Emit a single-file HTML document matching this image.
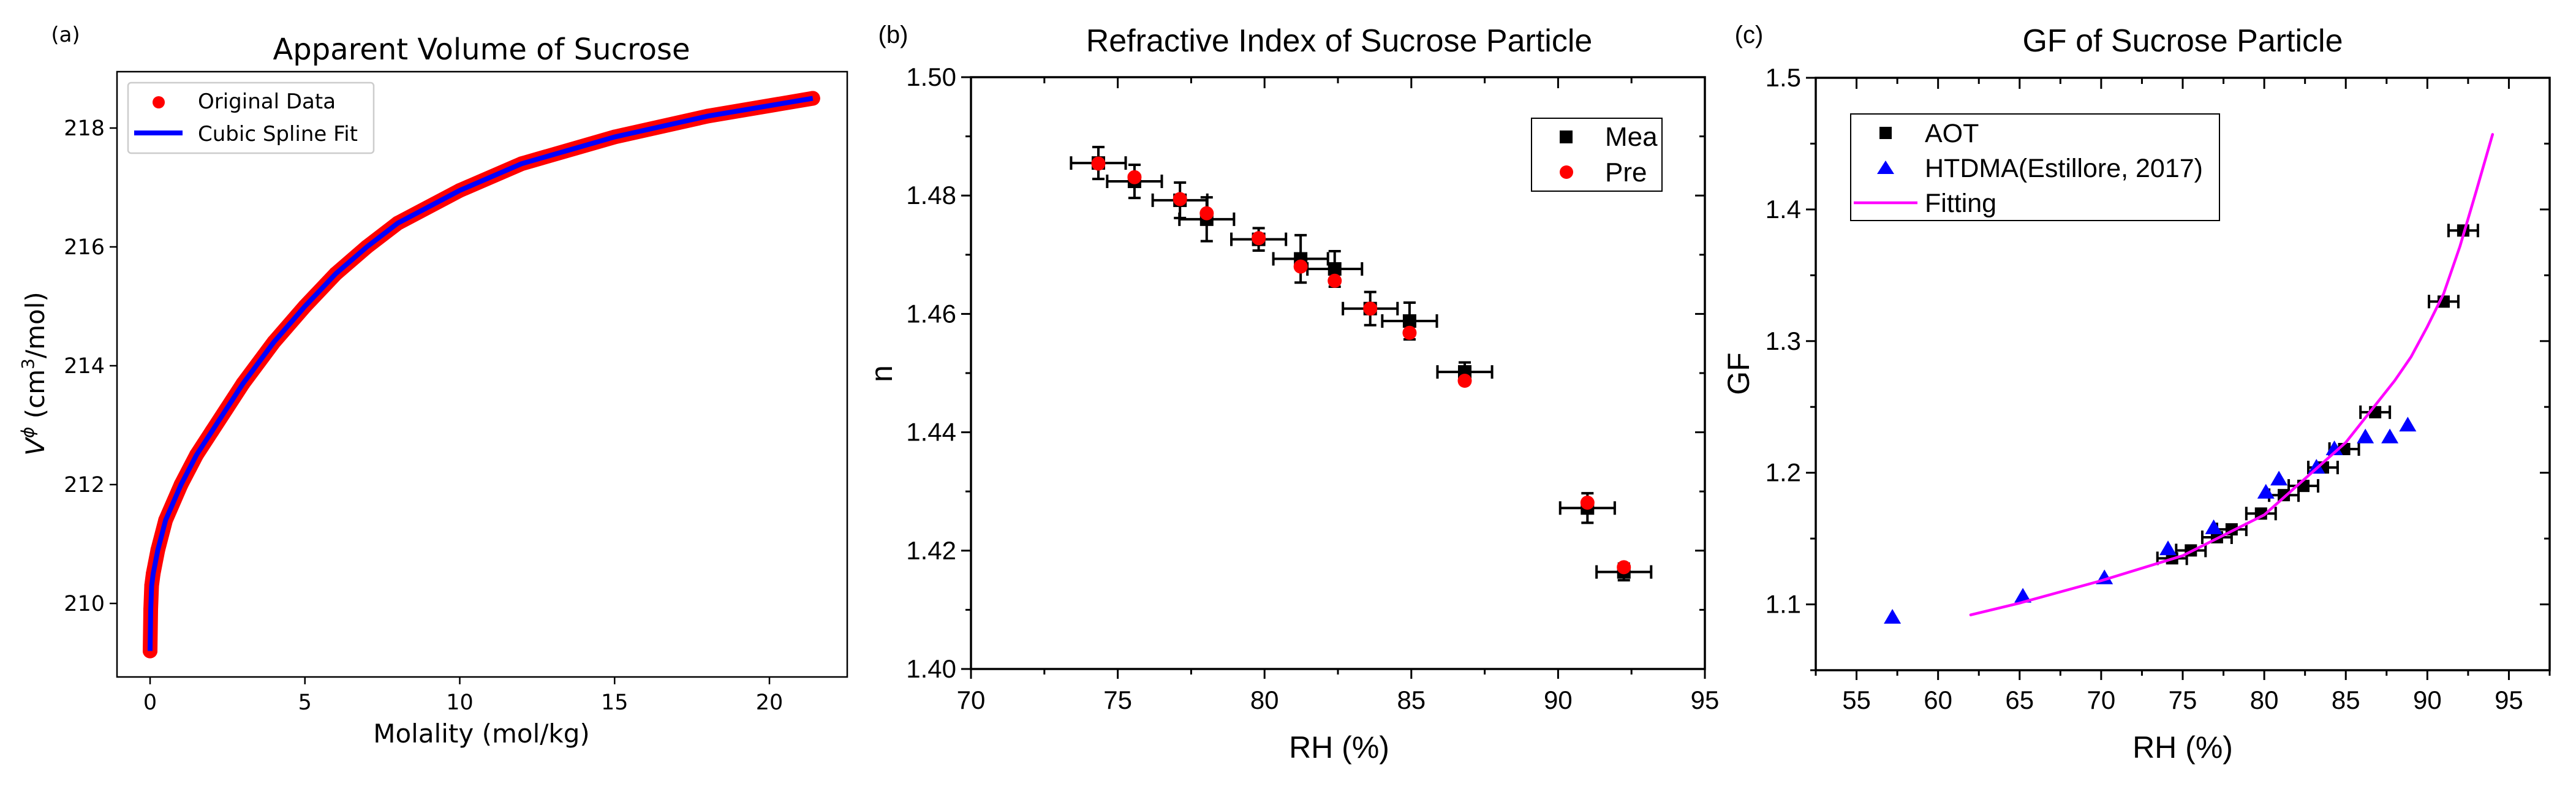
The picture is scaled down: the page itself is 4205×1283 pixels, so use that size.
<!DOCTYPE html>
<html><head><meta charset="utf-8">
<style>
html,body{margin:0;padding:0;background:#fff;overflow:hidden;}
svg{display:block;}
</style></head>
<body>
<svg id="fig" xmlns="http://www.w3.org/2000/svg" width="4205" height="1283" viewBox="0 0 4205 1283">
<rect width="4205" height="1283" fill="#fff"/>
<g id="pa"></g>
<g id="pb"></g>
<g id="pc"></g>
</svg>
<script>
// Panel A data
const aMolality = [0,0.02,0.05,0.1,0.25,0.5,1,1.5,2,3,4,5,6,7,8,10,12,15,18,21.4];
const aVolume   = [209.2,209.9,210.3,210.5,210.9,211.4,212.0,212.5,212.9,213.7,214.4,215.0,215.55,216.0,216.4,216.95,217.4,217.85,218.2,218.5];
const aXTicks = [0,5,10,15,20];
const aYTicks = [210,212,214,216,218];
// Panel B data
const bRH     = [74.34,75.57,77.12,78.03,79.8,81.23,82.39,83.6,84.94,86.82,91.0,92.24];
const bMea    = [1.4855,1.4824,1.4792,1.4760,1.4726,1.4693,1.4676,1.4609,1.4588,1.4502,1.4272,1.4164];
const bMeaErr = [0.0027,0.0028,0.0030,0.0037,0.0019,0.0040,0.0030,0.0028,0.0031,0.0016,0.0025,0.0014];
const bRHErr  = [0.93,0.93,0.93,0.93,0.93,0.93,0.93,0.93,0.93,0.93,0.93,0.93];
const bPre    = [1.4854,1.4831,1.4794,1.4770,1.4728,1.4680,1.4656,1.4609,1.4568,1.4487,1.4281,1.4172];
const bXTicks = [70,75,80,85,90,95];
const bYTicks = [1.40,1.42,1.44,1.46,1.48,1.50];
// Panel C data
const cAotRH = [74.35,75.5,77.1,78.0,79.8,81.2,82.4,83.6,84.9,86.8,91.0,92.2];
const cAotGF = [1.135,1.141,1.151,1.157,1.169,1.183,1.190,1.204,1.218,1.246,1.330,1.384];
const cAotErr = [0.9,0.9,0.9,0.9,0.9,0.9,0.9,0.9,0.9,0.9,0.9,0.9];
const cHtRH = [57.2,65.2,70.2,74.1,76.9,80.1,80.9,83.2,84.3,86.2,87.7,88.8];
const cHtGF = [1.090,1.106,1.120,1.142,1.158,1.185,1.195,1.204,1.218,1.227,1.227,1.236];
const cFitRH = [62,65,70,75,80,85,88,89,90,91,92,93,94];
const cFitGF = [1.092,1.101,1.118,1.137,1.168,1.223,1.270,1.288,1.311,1.336,1.372,1.414,1.457];
const cXTicks = [55,60,65,70,75,80,85,90,95];
const cYTicks = [1.1,1.2,1.3,1.4,1.5];

const NS='http://www.w3.org/2000/svg';
function mk(parent,tag,attrs,text){const e=document.createElementNS(NS,tag);for(const k in attrs)e.setAttribute(k,attrs[k]);if(text!==undefined)e.textContent=text;parent.appendChild(e);return e;}
function lin(d0,d1,r0,r1){return v=>r0+(v-d0)*(r1-r0)/(d1-d0);}

// ---------- Panel A ----------
(function(){
const g=document.getElementById('pa');
const L=191,R=1383,T=117,B=1105;
const x=lin(0,20,245,1256), y=lin(210,218,985,209);
const DJ='"DejaVu Sans","Liberation Sans",sans-serif';
let t;
t=mk(g,'text',{x:107,y:68,'font-family':DJ,'font-size':34,'text-anchor':'middle'},'(a)');

t=mk(g,'text',{x:786,y:97,'font-family':DJ,'font-size':48,'text-anchor':'middle'},'Apparent Volume of Sucrose');

aXTicks.forEach(v=>{
 const l=mk(g,'line',{x1:x(v),x2:x(v),y1:B,y2:B+12,stroke:'#000','stroke-width':2.5});
 
 const tt=mk(g,'text',{x:x(v),y:1158,'font-family':DJ,'font-size':35,'text-anchor':'middle'},String(v));
 
});
aYTicks.forEach(v=>{
 const l=mk(g,'line',{x1:L-12,x2:L,y1:y(v),y2:y(v),stroke:'#000','stroke-width':2.5});
 
 const tt=mk(g,'text',{x:L-20,y:y(v)+12,'font-family':DJ,'font-size':35,'text-anchor':'end'},String(v));
 
});
t=mk(g,'text',{x:786,y:1212,'font-family':DJ,'font-size':42,'text-anchor':'middle'},'Molality (mol/kg)');

t=mk(g,'text',{x:0,y:0,'font-family':DJ,'font-size':42,'text-anchor':'middle',transform:'translate(72,610) rotate(-90)'});

t.innerHTML='<tspan font-style="italic">V</tspan><tspan font-size="28" dy="-17" font-style="italic">ϕ</tspan><tspan dy="17"> (cm</tspan><tspan font-size="28" dy="-17">3</tspan><tspan dy="17">/mol)</tspan>';
const pts=aMolality.map((m,i)=>x(m)+','+y(aVolume[i])).join(' ');
let p=mk(g,'polyline',{points:pts,fill:'none',stroke:'#ff0000','stroke-width':24,'stroke-linejoin':'round','stroke-linecap':'round'});

aMolality.forEach((m,i)=>{const c=mk(g,'circle',{cx:x(m),cy:y(aVolume[i]),r:12,fill:'#ff0000'});
 });
p=mk(g,'polyline',{points:pts,fill:'none',stroke:'#0000ff','stroke-width':8,'stroke-linejoin':'round'});

const fr=mk(g,'rect',{x:L,y:T,width:R-L,height:B-T,fill:'none',stroke:'#000','stroke-width':2.5});

const lg=mk(g,'g',{});
mk(lg,'rect',{x:209,y:135,width:401,height:115,rx:5,fill:'#fff',stroke:'#ccc','stroke-width':2.5});
const c1=mk(lg,'circle',{cx:259,cy:167,r:10,fill:'#ff0000'});
const t1=mk(lg,'text',{x:323,y:177,'font-family':DJ,'font-size':34},'Original Data');
const l2=mk(lg,'line',{x1:219,x2:298,y1:217,y2:217,stroke:'#0000ff','stroke-width':8});
const t2=mk(lg,'text',{x:323,y:230,'font-family':DJ,'font-size':34},'Cubic Spline Fit');
})();

function originAxes(g,L,R,T,B,x,y,xt,yt,xminor,yminor,xfmt,yfmt){
 const AR='"Liberation Sans",Arial,sans-serif';
 xt.forEach(v=>{
  const X=x(v);
  let l=mk(g,'line',{x1:X,x2:X,y1:B,y2:B+16,stroke:'#000','stroke-width':3});
  l=mk(g,'line',{x1:X,x2:X,y1:T,y2:T+18,stroke:'#000','stroke-width':3});
  const tt=mk(g,'text',{x:X,y:1157,'font-family':AR,'font-size':42,'text-anchor':'middle'},xfmt(v));
  
 });
 xminor.forEach(v=>{const X=x(v);
  let l=mk(g,'line',{x1:X,x2:X,y1:B,y2:B+9,stroke:'#000','stroke-width':3});
  l=mk(g,'line',{x1:X,x2:X,y1:T,y2:T+10,stroke:'#000','stroke-width':3});});
 yt.forEach(v=>{
  const Y=y(v);
  let l=mk(g,'line',{x1:L-16,x2:L,y1:Y,y2:Y,stroke:'#000','stroke-width':3});
  l=mk(g,'line',{x1:R-16,x2:R,y1:Y,y2:Y,stroke:'#000','stroke-width':3});
  const tt=mk(g,'text',{x:L-24,y:Y+14,'font-family':AR,'font-size':42,'text-anchor':'end'},yfmt(v));
  
 });
 yminor.forEach(v=>{const Y=y(v);
  let l=mk(g,'line',{x1:L-9,x2:L,y1:Y,y2:Y,stroke:'#000','stroke-width':3});
  l=mk(g,'line',{x1:R-9,x2:R,y1:Y,y2:Y,stroke:'#000','stroke-width':3});});
 const fr=mk(g,'rect',{x:L,y:T,width:R-L,height:B-T,fill:'none',stroke:'#000','stroke-width':3.5});
 
}
function errX(g,X1,X2,Y){
 const e=mk(g,'path',{d:`M${X1},${Y}H${X2}M${X1},${Y-11}V${Y+11}M${X2},${Y-11}V${Y+11}`,stroke:'#000','stroke-width':4,fill:'none'});
 
}
function errY(g,X,Y1,Y2){
 const e=mk(g,'path',{d:`M${X},${Y1}V${Y2}M${X-10},${Y1}H${X+10}M${X-10},${Y2}H${X+10}`,stroke:'#000','stroke-width':4,fill:'none'});
 
}
const AR='"Liberation Sans",Arial,sans-serif';

// ---------- Panel B ----------
(function(){
const g=document.getElementById('pb');
const L=1585,R=2783,T=126,B=1092;
const x=lin(70,95,L,R), y=lin(1.40,1.50,B,T);
let t=mk(g,'text',{x:1458,y:70,'font-family':AR,'font-size':40,'text-anchor':'middle'},'(b)');

t=mk(g,'text',{x:2186,y:84,'font-family':AR,'font-size':52,'text-anchor':'middle'},'Refractive Index of Sucrose Particle');

originAxes(g,L,R,T,B,x,y,bXTicks,bYTicks,[72.5,77.5,82.5,87.5,92.5],[1.41,1.43,1.45,1.47,1.49],v=>String(v),v=>v.toFixed(2));
t=mk(g,'text',{x:2186,y:1237,'font-family':AR,'font-size':50,'text-anchor':'middle'},'RH (%)');

t=mk(g,'text',{x:0,y:0,'font-family':AR,'font-size':50,'text-anchor':'middle',transform:'translate(1456,610) rotate(-90)'},'n');

bRH.forEach((r,i)=>{
 errX(g,x(r-bRHErr[i]),x(r+bRHErr[i]),y(bMea[i]));
 errY(g,x(r),y(bMea[i]+bMeaErr[i]),y(bMea[i]-bMeaErr[i]));
 const s=mk(g,'rect',{x:x(r)-11,y:y(bMea[i])-11,width:22,height:22,fill:'#000'});
 
});
bRH.forEach((r,i)=>{
 const c=mk(g,'circle',{cx:x(r),cy:y(bPre[i]),r:11.5,fill:'#ff0000'});
 
});
const lg=mk(g,'g',{});
mk(lg,'rect',{x:2500,y:193,width:213,height:119,fill:'#fff',stroke:'#000','stroke-width':2});
let m=mk(lg,'rect',{x:2546,y:213,width:21,height:21,fill:'#000'});
t=mk(lg,'text',{x:2620,y:238,'font-family':AR,'font-size':44},'Mea');
m=mk(lg,'circle',{cx:2557,cy:281,r:11,fill:'#ff0000'});
t=mk(lg,'text',{x:2620,y:296,'font-family':AR,'font-size':44},'Pre');
})();

// ---------- Panel C ----------
(function(){
const g=document.getElementById('pc');
const L=2964,R=4162,T=127,B=1094;
const x=lin(52.5,97.5,L,R), y=lin(1.05,1.5,B,T);
let t=mk(g,'text',{x:2855,y:70,'font-family':AR,'font-size':40,'text-anchor':'middle'},'(c)');

t=mk(g,'text',{x:3563,y:84,'font-family':AR,'font-size':52,'text-anchor':'middle'},'GF of Sucrose Particle');

originAxes(g,L,R,T,B,x,y,cXTicks,cYTicks,[52.5,57.5,62.5,67.5,72.5,77.5,82.5,87.5,92.5,97.5],[1.05,1.15,1.25,1.35,1.45],v=>String(v),v=>v.toFixed(1));
t=mk(g,'text',{x:3563,y:1237,'font-family':AR,'font-size':50,'text-anchor':'middle'},'RH (%)');

t=mk(g,'text',{x:0,y:0,'font-family':AR,'font-size':50,'text-anchor':'middle',transform:'translate(2855,610) rotate(-90)'},'GF');

cAotRH.forEach((r,i)=>{
 errX(g,x(r-cAotErr[i]),x(r+cAotErr[i]),y(cAotGF[i]));
 const s=mk(g,'rect',{x:x(r)-10,y:y(cAotGF[i])-10,width:20,height:20,fill:'#000'});
 
});
cHtRH.forEach((r,i)=>{
 const X=x(r),Y=y(cHtGF[i]);
 const p=mk(g,'polygon',{points:`${X},${Y-14} ${X-14},${Y+10} ${X+14},${Y+10}`,fill:'#0000ff'});
 
});
const fp=mk(g,'polyline',{points:cFitRH.map((r,i)=>x(r)+','+y(cFitGF[i])).join(' '),fill:'none',stroke:'#ff00ff','stroke-width':4.5,'stroke-linejoin':'round','stroke-linecap':'round'});

const lg=mk(g,'g',{});
mk(lg,'rect',{x:3021,y:186,width:602,height:174,fill:'#fff',stroke:'#000','stroke-width':2});
let m=mk(lg,'rect',{x:3068,y:207,width:20,height:20,fill:'#000'});
t=mk(lg,'text',{x:3142,y:232,'font-family':AR,'font-size':43},'AOT');
m=mk(lg,'polygon',{points:'3078,262 3064,284 3092,284',fill:'#0000ff'});
t=mk(lg,'text',{x:3142,y:289,'font-family':AR,'font-size':43},'HTDMA(Estillore, 2017)');
m=mk(lg,'line',{x1:3026,x2:3130,y1:331,y2:331,stroke:'#ff00ff','stroke-width':4.5});
t=mk(lg,'text',{x:3142,y:346,'font-family':AR,'font-size':43},'Fitting');
})();
</script>
</body></html>
